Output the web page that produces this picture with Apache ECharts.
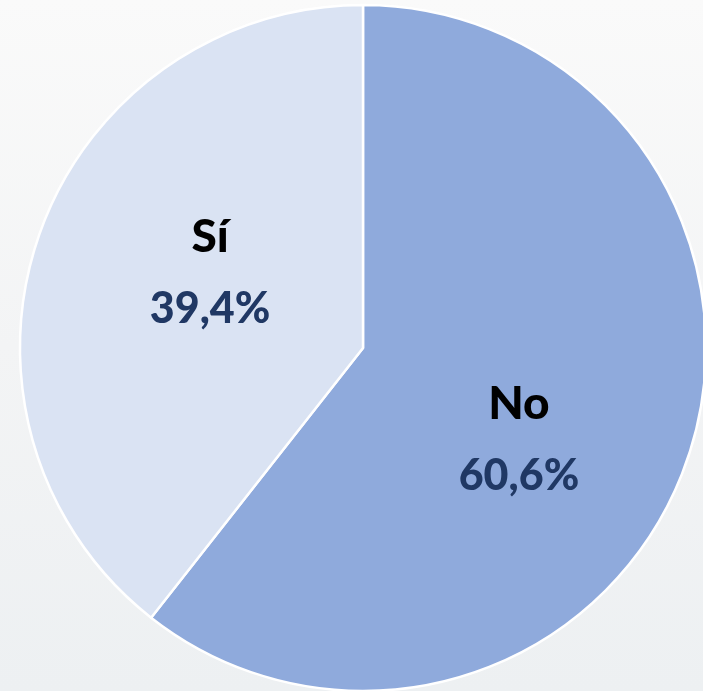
<!DOCTYPE html>
<html>
<head>
<meta charset="utf-8">
<script src="https://cdn.jsdelivr.net/npm/echarts@6/dist/echarts.min.js"></script>
<style>
html,body{margin:0;padding:0;width:703px;height:691px;overflow:hidden;}
#c{width:703px;height:691px;background:linear-gradient(180deg,#fafafa 0%,#f3f4f5 50%,#edf0f2 100%);}
</style>
</head>
<body>
<div id="c"></div>
<script>
const categories = ['No', 'Sí'];
const values = [60.6, 39.4];
const colors = ['#8FAADC', '#DAE3F3'];
const labelShift = [[-9, 35], [12, -18]];

const chart = echarts.init(document.getElementById('c'), null, {renderer: 'canvas'});
chart.setOption({
  animation: false,
  series: [{
    type: 'pie',
    center: [363, 348],
    radius: [0, 343],
    startAngle: 90,
    clockwise: true,
    data: categories.map((c, i) => ({name: c, value: values[i], itemStyle: {color: colors[i]}})),
    itemStyle: {borderColor: '#ffffff', borderWidth: 2.5},
    label: {
      show: true,
      position: 'inside',
      formatter: p => '{n|' + p.name + '}\n{v|' + p.value.toFixed(1).replace('.', ',') + '%}',
      rich: {
        n: {fontFamily: 'Lato', fontWeight: 900, fontSize: 46, color: '#000000', lineHeight: 72, align: 'center'},
        v: {fontFamily: 'Lato', fontWeight: 900, fontSize: 43, color: '#203864', lineHeight: 72, align: 'center'}
      }
    },
    labelLayout: p => ({dx: labelShift[p.dataIndex][0], dy: labelShift[p.dataIndex][1]}),
    labelLine: {show: false},
    emphasis: {disabled: true}
  }]
});
</script>
</body>
</html>
